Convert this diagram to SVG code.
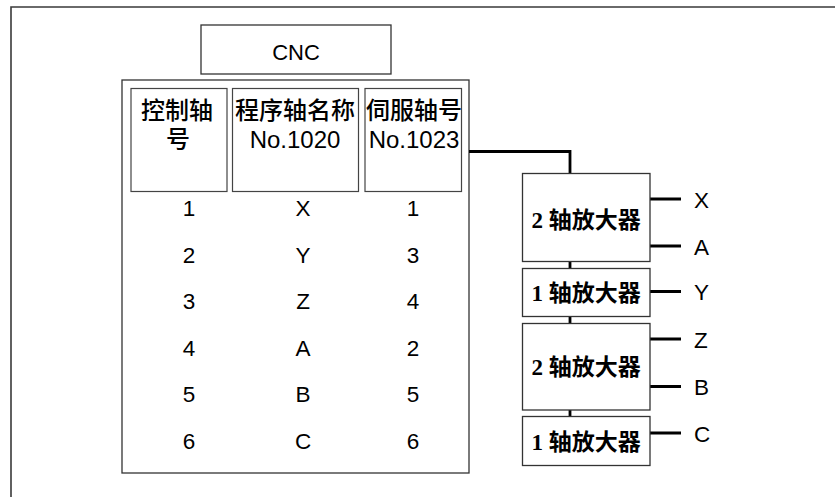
<svg xmlns="http://www.w3.org/2000/svg" width="835" height="497" viewBox="0 0 835 497">
<style>
.frame{fill:none;stroke:#3a3a3a;stroke-width:1.6}
.box{fill:#fff;stroke:#333;stroke-width:1.3}
.cell{fill:#fff;stroke:#444;stroke-width:1.2}
.wire{fill:none;stroke:#000;stroke-width:2.8}
.t{font-family:"Liberation Sans",Arial,sans-serif;fill:#000;text-anchor:middle}
.h{font-family:"Liberation Sans","Noto Sans CJK SC",sans-serif;font-size:24px;fill:#000;text-anchor:middle}
.cj{font-weight:500}
.r{font-size:22.5px}
.amp{font-family:"Liberation Serif","Noto Sans CJK SC",serif;font-weight:bold;font-size:23px;fill:#000;text-anchor:middle}
.lbl{font-family:"Liberation Sans",Arial,sans-serif;font-size:22.5px;fill:#000}
</style>
<rect width="835" height="497" fill="#fff"/>
<path class="frame" d="M11,497 V7 H835"/>
<g id="cnc">
<rect class="box" x="201" y="25" width="190" height="49"/>
<text class="t" x="296" y="60" font-size="22">CNC</text>
</g>
<g id="table">
<rect class="box" x="122" y="80" width="347" height="393"/>
<rect class="cell" x="131" y="88.5" width="96" height="103"/>
<rect class="cell" x="232.5" y="88.5" width="126" height="103"/>
<rect class="cell" x="365" y="88.5" width="96.5" height="103"/>
<text class="h cj" x="177" y="119">控制轴</text>
<text class="h cj" x="178" y="148">号</text>
<text class="h cj" x="295" y="119">程序轴名称</text>
<text class="h" x="295" y="148">No.1020</text>
<text class="h cj" x="414" y="119">伺服轴号</text>
<text class="h" x="414" y="148">No.1023</text>
<g class="t r">
<text x="189" y="216">1</text><text x="303" y="216">X</text><text x="413" y="216">1</text>
<text x="189" y="262.5">2</text><text x="303" y="262.5">Y</text><text x="413" y="262.5">3</text>
<text x="189" y="309">3</text><text x="303" y="309">Z</text><text x="413" y="309">4</text>
<text x="189" y="355.5">4</text><text x="303" y="355.5">A</text><text x="413" y="355.5">2</text>
<text x="189" y="402">5</text><text x="303" y="402">B</text><text x="413" y="402">5</text>
<text x="189" y="448.5">6</text><text x="303" y="448.5">C</text><text x="413" y="448.5">6</text>
</g>
</g>
<g id="connectors">
<path class="wire" d="M469,151.5 H570 V174"/>
<path class="wire" d="M570,261 V269 M570,316 V324 M570,409 V417"/>
<path class="wire" d="M650,199 H681 M650,246 H681 M650,291.5 H681 M650,339 H681 M650,386.5 H681 M650,433 H681"/>
</g>
<g id="amp1">
<rect class="box" x="522.5" y="173.5" width="127.5" height="88"/>
<text class="amp" x="586" y="228">2 轴放大器</text>
</g>
<g id="amp2">
<rect class="box" x="522.5" y="268.5" width="127.5" height="48"/>
<text class="amp" x="586" y="300.5">1 轴放大器</text>
</g>
<g id="amp3">
<rect class="box" x="522.5" y="323.5" width="127.5" height="86.5"/>
<text class="amp" x="586" y="375">2 轴放大器</text>
</g>
<g id="amp4">
<rect class="box" x="522.5" y="416.5" width="127.5" height="49"/>
<text class="amp" x="586" y="449.5">1 轴放大器</text>
</g>
<g id="labels" class="lbl">
<text x="694" y="207.5">X</text>
<text x="694" y="254.5">A</text>
<text x="694" y="300">Y</text>
<text x="694" y="347.5">Z</text>
<text x="694" y="395">B</text>
<text x="694" y="441.5">C</text>
</g>
</svg>
